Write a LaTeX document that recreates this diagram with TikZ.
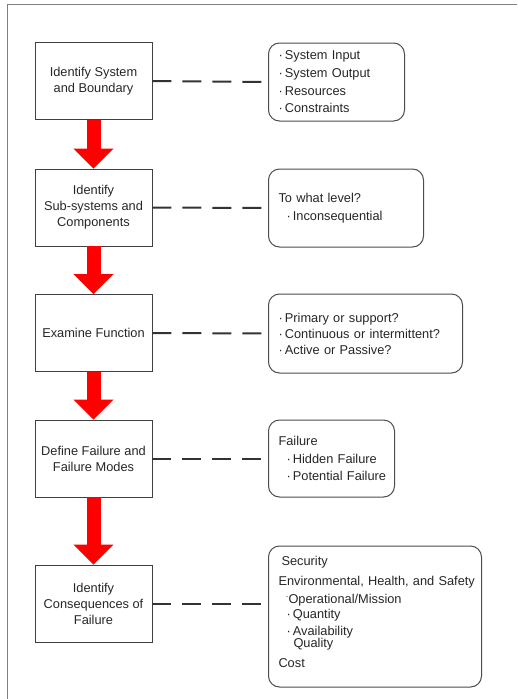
\documentclass[tikz,border=0pt]{standalone}
\usepackage{fontspec}
\setmainfont{Liberation Sans}
\usetikzlibrary{arrows.meta}

\tikzset{
    stepbox/.style={draw=black!75,line width=0.8pt,minimum width=117pt,minimum height=77pt,
        align=center,font=\fontsize{12.8}{16}\selectfont,text=black!85},
    notebox/.style={draw=black!70,line width=1pt,rounded corners=11pt,anchor=west,
        inner xsep=10pt,align=left,text=black!85},
    link/.style={draw=black!80,line width=2pt,dash pattern=on 19pt off 11pt},
    flow/.style={red,line width=14pt,-{Triangle[width=39pt,length=20pt]}}
}

\begin{document}
\begin{tikzpicture}[x=1pt,y=-1pt]
            \useasboundingbox (0,0) rectangle (517,699);
            %\draw[very thin,color=gray] (0,0) grid[step=50] (517,699);
            \draw[black!50,line width=1.2pt] (517,4.5) -- (7.5,4.5) -- (7.5,699);

            \node[stepbox] (sys) at (93.5,81) {Identify System\\and Boundary};
            \node[stepbox] (sub) at (93.5,207.5) {Identify\\Sub-systems and\\Components};
            \node[stepbox] (fun) at (93.5,333) {Examine Function};
            \node[stepbox] (fail) at (93.5,458.5) {Define Failure and\\Failure Modes};
            \node[stepbox] (cons) at (93.5,603.5) {Identify\\Consequences of\\Failure};

            \node[notebox,text width=116pt,minimum height=78pt,font=\fontsize{12.8}{17.7}\selectfont] (sysnote) at (268,82)
                {\mbox{·\,System Input}\\\mbox{·\,System Output}\\\mbox{·\,Resources}\\\mbox{·\,Constraints}};
            \node[notebox,text width=135pt,minimum height=78pt,font=\fontsize{12.8}{18}\selectfont] (subnote) at (268,208)
                {\mbox{To what level?}\\\mbox{\hspace{8pt}·\,Inconsequential}};
            \node[notebox,text width=174pt,minimum height=79pt,font=\fontsize{12.8}{16}\selectfont] (funnote) at (268,333.5)
                {\mbox{·\,Primary or support?}\\\mbox{·\,Continuous or intermittent?}\\\mbox{·\,Active or Passive?}};
            \node[notebox,text width=106pt,minimum height=77pt,font=\fontsize{12.8}{17.3}\selectfont] (failnote) at (268,458.5)
                {\mbox{Failure}\\\mbox{\hspace{8pt}·\,Hidden Failure}\\\mbox{\hspace{8pt}·\,Potential Failure}};
            \node[notebox,text width=193pt,minimum height=141pt,font=\fontsize{12.8}{16}\selectfont] (consnote) at (268,616.5)
                {\mbox{\hspace{3pt}Security}\\[3.3pt]
                 \mbox{Environmental, Health, and Safety}\\[2pt]
                 \mbox{\hspace{7pt}\raisebox{0.3em}{\fontsize{9}{9}\selectfont·}Operational/Mission}\\[-0.6pt]
                 \mbox{\hspace{8pt}·\,Quantity}\\[1.3pt]
                 \mbox{\hspace{8pt}·\,Availability}\\[-4.3pt]
                 \mbox{\hspace{15pt}Quality}\\[4pt]
                 \mbox{Cost}\\[-12pt]\strut};

            \draw[flow] (sys.south) -- (sub.north);
            \draw[flow] (sub.south) -- (fun.north);
            \draw[flow] (fun.south) -- (fail.north);
            \draw[flow] (fail.south) -- (cons.north);

            \draw[link] (sys.east) -- (sysnote.west);
            \draw[link] (sub.east) -- (subnote.west);
            \draw[link] (fun.east) -- (funnote.west);
            \draw[link] (fail.east) -- (failnote.west);
            \draw[link] (cons.east) -- (cons.east -| consnote.west);

        \end{tikzpicture}
\end{document}
